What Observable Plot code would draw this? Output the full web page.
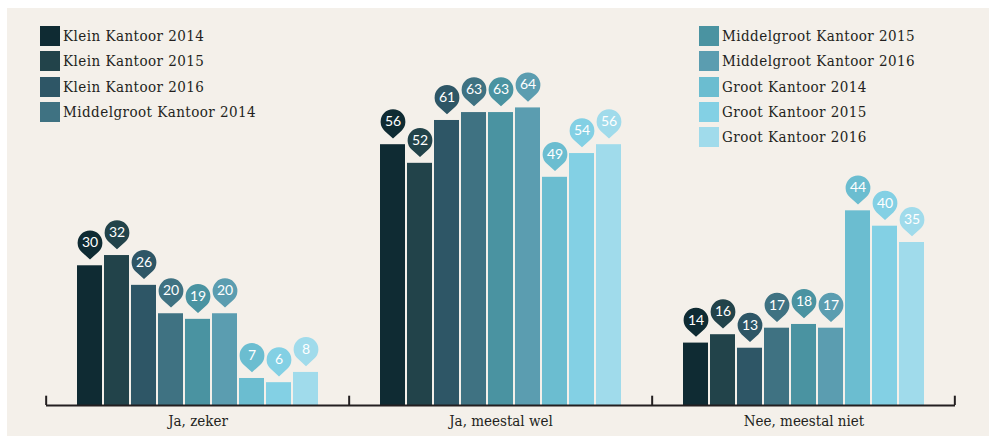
<!DOCTYPE html>
<html><head><meta charset="utf-8">
<script src="https://cdn.jsdelivr.net/npm/d3@7"></script>
<script src="https://cdn.jsdelivr.net/npm/@observablehq/plot@0.6"></script>
<style>
html,body{margin:0;padding:0;background:#fff;}
#wrap{position:relative;width:989px;height:437px;overflow:hidden;}
#panel{position:absolute;left:7px;top:8px;width:982px;height:428px;background:#f4f0ea;}
.legend{position:absolute;font-family:"DejaVu Serif Condensed";font-size:15px;letter-spacing:0.45px;color:#231f20;}
.item{display:flex;align-items:center;height:20px;margin-bottom:5.3px;white-space:nowrap;}
.sw{width:20px;height:20px;margin-right:3px;flex:none;}
#chart{position:absolute;left:0;top:0;}
</style>
</head><body>
<div id="wrap"><div id="panel"></div><div id="chart"></div>
<div class="legend" id="legL" style="left:40px;top:26px"></div>
<div class="legend" id="legR" style="left:699px;top:26px"></div>
</div>
<script>
const categories = ["Ja, zeker", "Ja, meestal wel", "Nee, meestal niet"];
const series = ["Klein Kantoor 2014","Klein Kantoor 2015","Klein Kantoor 2016",
  "Middelgroot Kantoor 2014","Middelgroot Kantoor 2015","Middelgroot Kantoor 2016",
  "Groot Kantoor 2014","Groot Kantoor 2015","Groot Kantoor 2016"];
const colors = ["#0f2b33","#22434a","#2e5666","#3f7282","#4a93a1","#5b9db0","#6bbdd0","#83d0e4","#a0dbeb"];
// printed labels per series, in category order
const labelsBySeries = [
  [30, 56, 14],
  [32, 52, 16],
  [26, 61, 13],
  [20, 63, 17],
  [19, 63, 18],
  [20, 64, 17],
  [7, 49, 44],
  [6, 54, 40],
  [8, 56, 35]
];
// bar lengths as drawn in the picture, per series, in category order
const valuesBySeries = [
  [30.0, 56.0, 13.4],
  [32.2, 52.0, 15.2],
  [25.8, 61.2, 12.3],
  [19.7, 62.9, 16.6],
  [18.5, 62.9, 17.4],
  [19.7, 63.9, 16.6],
  [5.8, 49.0, 41.8],
  [4.9, 54.1, 38.5],
  [7.1, 56.0, 35.0]
];
const data = series.flatMap((s, i) => categories.map((c, j) => ({
  category: c, series: s, value: valuesBySeries[i][j], label: labelsBySeries[i][j]
})));

const pin = {
  draw(ctx, size) {
    const r = Math.sqrt(size / Math.PI);
    const d = r * 1.35;
    const b = Math.acos(r / d);
    ctx.moveTo(0, d);
    ctx.lineTo(r * Math.sin(b), r * Math.cos(b));
    ctx.arc(0, 0, r, Math.PI / 2 - b, Math.PI / 2 + b - 2 * Math.PI, true);
    ctx.closePath();
  }
};

const W = 989, H = 437, mL = 45, mR = 33;
const facetW = (W - mL - mR) / categories.length;
const ink = "#231f20";

const chart = Plot.plot({
  width: W, height: H,
  marginLeft: mL, marginRight: mR, marginTop: 79, marginBottom: 32,
  style: {background: "transparent", fontFamily: "DejaVu Serif Condensed", fontSize: "15px", color: ink},
  fx: {domain: categories, padding: 0, label: null, tickSize: 0, tickPadding: 10},
  x: {domain: series, paddingInner: 2 / 27, paddingOuter: 1.14, axis: null},
  y: {domain: [0, 70], axis: null},
  color: {domain: series, range: colors},
  marks: [
    Plot.barY(data, {fx: "category", x: "series", y: "value", fill: "series"}),
    Plot.ruleY([0], {stroke: ink, strokeWidth: 2}),
    Plot.ruleX(categories, {fx: d => d, x: null, y1: 0, y2: 2, dx: -facetW / 2, stroke: ink, strokeWidth: 2}),
    Plot.ruleX(categories.slice(-1), {fx: d => d, x: null, y1: 0, y2: 2, dx: facetW / 2 - 1, stroke: ink, strokeWidth: 2}),
    Plot.dot(data, {fx: "category", x: "series", y: "value", dy: -23, r: 12.4, symbol: pin, fill: "series", stroke: "none"}),
    Plot.text(data, {fx: "category", x: "series", y: "value", dy: -23, text: d => String(d.label), fill: "white", fontSize: 14, fontFamily: "Lato", fontWeight: "normal"})
  ]
});
document.getElementById("chart").appendChild(chart);

function legend(el, items) {
  for (const s of items) {
    const it = document.createElement("div"); it.className = "item";
    const sw = document.createElement("div"); sw.className = "sw";
    sw.style.background = colors[series.indexOf(s)];
    const t = document.createElement("span"); t.textContent = s;
    it.appendChild(sw); it.appendChild(t); el.appendChild(it);
  }
}
legend(document.getElementById("legL"), series.slice(0, 4));
legend(document.getElementById("legR"), series.slice(4));
</script>
</body></html>
